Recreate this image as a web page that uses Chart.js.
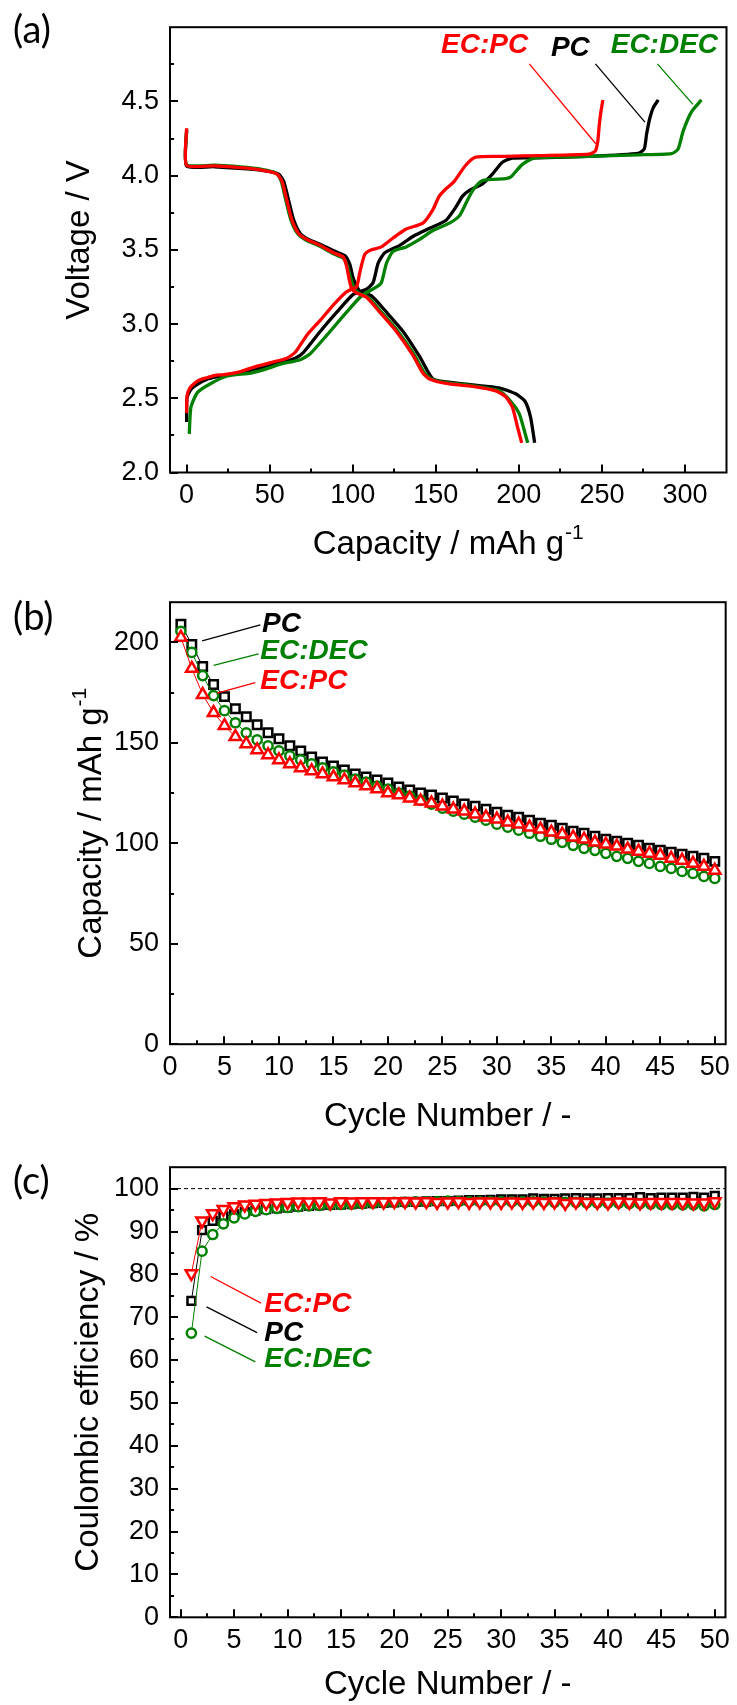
<!DOCTYPE html>
<html>
<head>
<meta charset="utf-8">
<script src="https://cdn.jsdelivr.net/npm/chart.js@4.4.1/dist/chart.umd.min.js"></script>
<style>
  body { margin: 0; background: #fff; }
  #page { position: relative; width: 737px; height: 1705px; overflow: hidden; background: #fff; }
  .panel { position: absolute; left: 0; width: 737px; }
  .tag { position: absolute; left: 13px; font: 38px Lato, "Open Sans", sans-serif; line-height: 38px; color: #000; }
</style>
</head>
<body>
<div id="page">
  <div class="panel" style="top:0"><canvas id="voltage" width="737" height="575"></canvas></div>
  <div class="panel" style="top:575px"><canvas id="capacity" width="737" height="565"></canvas></div>
  <div class="panel" style="top:1140px"><canvas id="efficiency" width="737" height="565"></canvas></div>
  <div class="tag" style="top:9px">(a)</div>
  <div class="tag" style="top:596px">(b)</div>
  <div class="tag" style="top:1160px">(c)</div>
</div>
<script>
// ---- (a) first charge / discharge profiles, [capacity mAh/g, voltage V] ----
const ecpcCharge = [[0, 2.40], [0.3, 2.52], [2, 2.57], [4.6, 2.60], [8, 2.625], [12.6, 2.64], [17, 2.655],
  [22.5, 2.66], [32.5, 2.68], [40.5, 2.71], [50.5, 2.74], [60.4, 2.77], [65.4, 2.81], [72.4, 2.925],
  [80.4, 3.025], [88.4, 3.13], [95.4, 3.21], [99.3, 3.235], [102.3, 3.25], [104.3, 3.35], [107.3, 3.47],
  [111.3, 3.50], [117.3, 3.52], [124.3, 3.58], [132.2, 3.64], [142.2, 3.68], [148.2, 3.77], [152, 3.86],
  [156, 3.91], [161, 3.96], [168, 4.07], [174, 4.125], [192, 4.13], [212, 4.135], [242, 4.145],
  [246, 4.165], [247.5, 4.23], [248.4, 4.34], [249.4, 4.43], [250.6, 4.51]];
const pcCharge = [[0, 2.34], [0.2, 2.50], [2, 2.55], [4.6, 2.58], [12.6, 2.63], [22.5, 2.655], [36.5, 2.68],
  [46.5, 2.71], [56.5, 2.74], [65.4, 2.77], [70.4, 2.81], [80.4, 2.95], [90.4, 3.08], [100.3, 3.20],
  [108.3, 3.235], [112.3, 3.28], [115.3, 3.41], [119.3, 3.48], [128.3, 3.53], [136.2, 3.59], [146.2, 3.645],
  [156.2, 3.70], [162.2, 3.79], [166, 3.86], [170.2, 3.90], [178.1, 3.945], [184.1, 4.01], [190.1, 4.09],
  [196.1, 4.118], [212, 4.12], [242, 4.13], [271.9, 4.15], [275.5, 4.18], [276.9, 4.28], [278.9, 4.39],
  [281, 4.46], [283.9, 4.51]];
const ecdecCharge = [[1.6, 2.26], [2.6, 2.44], [6.6, 2.54], [14.6, 2.60], [24.5, 2.65], [38.5, 2.67],
  [48.5, 2.70], [56.5, 2.73], [68.4, 2.76], [74.4, 2.80], [84.4, 2.925], [96.3, 3.08], [105.3, 3.19],
  [114.3, 3.25], [117.3, 3.28], [120.3, 3.41], [124.3, 3.49], [132.2, 3.52], [140.2, 3.57], [148.2, 3.63],
  [158.2, 3.68], [164.2, 3.73], [168, 3.81], [172.2, 3.90], [178.1, 3.967], [192.1, 3.98], [195.1, 3.99],
  [202.1, 4.076], [209.1, 4.118], [232, 4.127], [271.9, 4.14], [291.9, 4.148], [295.9, 4.18],
  [298.9, 4.30], [303.9, 4.43], [309.9, 4.51]];
const ecpcDischarge = [[0, 4.32], [0, 4.07], [16.6, 4.066], [36.5, 4.05], [48.5, 4.03], [54.5, 4.01],
  [57.5, 3.96], [60.4, 3.83], [63.4, 3.70], [67.4, 3.61], [72.4, 3.57], [80.4, 3.53], [88.4, 3.48],
  [94.4, 3.45], [96.3, 3.39], [97.9, 3.30], [99.3, 3.24], [102.3, 3.21], [108.3, 3.18], [116.3, 3.08],
  [126.3, 2.95], [136.2, 2.79], [142.2, 2.67], [146.2, 2.63], [156.2, 2.60], [172.2, 2.58], [186.1, 2.55],
  [192.1, 2.51], [196.1, 2.44], [199.1, 2.31], [201.7, 2.20]];
const pcDischarge = [[0, 4.31], [0, 4.065], [16.6, 4.06], [36.5, 4.045], [48.5, 4.03], [55.5, 4.01],
  [58.5, 3.96], [61.5, 3.83], [64.5, 3.70], [68.4, 3.61], [73.4, 3.57], [81, 3.535], [89.4, 3.49],
  [95.4, 3.46], [98.3, 3.40], [100, 3.32], [101.3, 3.28], [104.3, 3.22], [111.3, 3.19], [120.3, 3.08],
  [130.3, 2.95], [140.3, 2.78], [148.2, 2.63], [156.2, 2.61], [172.2, 2.59], [188.1, 2.57], [198.1, 2.53],
  [203.7, 2.48], [207.1, 2.37], [209.5, 2.20]];
const ecdecDischarge = [[0, 4.30], [0, 4.075], [16.6, 4.07], [36.5, 4.055], [48.5, 4.035], [54.5, 4.01],
  [57, 3.96], [59.8, 3.83], [62.8, 3.70], [66.8, 3.61], [72, 3.565], [80, 3.525], [88, 3.475], [94.6, 3.44],
  [97, 3.38], [99, 3.30], [101, 3.24], [103.5, 3.21], [109.3, 3.18], [117.3, 3.08], [127.3, 2.95],
  [137.2, 2.79], [143.2, 2.67], [147.2, 2.63], [156.2, 2.605], [172.2, 2.585], [188.1, 2.55], [195.1, 2.48],
  [200.1, 2.40], [203.1, 2.29], [205.3, 2.20]];

// ---- (b), (c) cycling ----
const cycles = [1, 2, 3, 4, 5, 6, 7, 8, 9, 10, 11, 12, 13, 14, 15, 16, 17, 18, 19, 20, 21, 22, 23, 24, 25,
  26, 27, 28, 29, 30, 31, 32, 33, 34, 35, 36, 37, 38, 39, 40, 41, 42, 43, 44, 45, 46, 47, 48, 49, 50];
const pcCapacity = [209, 199, 188, 179, 173, 167, 163, 159, 155, 152, 148.5, 146, 143, 140.5, 138.5, 136.5,
  134.5, 133, 131.5, 130, 128, 126.5, 125, 124, 122.5, 121, 119.5, 118.5, 117, 115.5, 114, 113, 111.5, 110,
  109, 107.5, 106, 105, 103.5, 102, 101, 100, 99, 97.5, 96.5, 95.5, 94.5, 93.5, 92.5, 91];
const ecdecCapacity = [205.5, 195, 183.5, 173.5, 166, 160, 155, 151.5, 148.5, 146, 143.5, 141.5, 139.5, 137.5,
  135.5, 134, 132, 130.5, 128.5, 127, 125, 123.5, 121.5, 119.5, 117.5, 116, 114.5, 113, 111.5, 109.5, 108,
  106.5, 105, 103.5, 102, 100.5, 99, 97.5, 96.5, 95, 93.5, 92.5, 91, 90, 88.5, 87.5, 86, 85, 83.5, 82.5];
const ecpcCapacity = [202.5, 187, 174, 165, 158.5, 153, 149.5, 146.5, 144, 141.5, 139.5, 137.5, 136, 134.5,
  133, 131.5, 130, 128.5, 127, 125, 124, 122.5, 121, 120, 118.5, 117, 116, 114.5, 113, 112, 110.5, 109.5,
  108, 107, 105.5, 104.5, 103, 102, 100.5, 99.5, 98.5, 97, 96, 95, 94, 92.5, 91.5, 90, 88.5, 86.5];
const pcEfficiency = [73.8, 90.3, 92.5, 93.5, 94.0, 94.5, 94.9, 95.2, 95.4, 95.6, 95.8, 96.0, 96.1, 96.2, 96.3,
  96.4, 96.5, 96.6, 96.7, 96.8, 96.9, 96.9, 97.0, 97.1, 97.1, 97.2, 97.3, 97.3, 97.4, 97.5, 97.5, 97.5, 97.7,
  97.6, 97.6, 97.7, 97.8, 97.7, 97.7, 97.8, 97.8, 97.8, 98.0, 97.8, 97.9, 97.9, 97.9, 98.1, 97.9, 98.3];
const ecpcEfficiency = [80.2, 92.5, 94.2, 95.2, 95.8, 96.2, 96.4, 96.6, 96.7, 96.8, 96.9, 96.9, 97.0, 96.7,
  97.0, 96.9, 97.0, 97.0, 96.9, 97.0, 97.0, 96.9, 97.0, 96.8, 96.9, 97.0, 96.8, 96.9, 96.9, 96.8, 96.9, 96.8,
  96.9, 96.8, 96.9, 96.6, 96.9, 96.8, 96.8, 96.7, 96.9, 96.8, 96.7, 96.8, 96.8, 96.8, 96.8, 96.7, 96.7, 97.0];
const ecdecEfficiency = [66.3, 85.4, 89.3, 91.8, 93.2, 94.1, 94.7, 95.1, 95.4, 95.6, 95.8, 96.0, 96.1, 96.2,
  96.3, 96.4, 96.5, 96.6, 96.7, 96.8, 96.8, 96.9, 96.9, 97.0, 97.1, 97.0, 97.0, 97.0, 97.0, 97.0, 96.9, 96.9,
  96.9, 96.9, 96.8, 96.8, 96.8, 96.7, 96.7, 96.6, 96.6, 96.5, 96.5, 96.4, 96.3, 96.3, 96.2, 96.2, 96.0, 96.3];

// ---- tick labels ----
const capacityAxisTicks = [0, 50, 100, 150, 200, 250, 300];
const voltageTicks = [2.0, 2.5, 3.0, 3.5, 4.0, 4.5];
const cycleTicks = [0, 5, 10, 15, 20, 25, 30, 35, 40, 45, 50];
const specificCapacityTicks = [0, 50, 100, 150, 200];
const efficiencyTicks = [0, 10, 20, 30, 40, 50, 60, 70, 80, 90, 100];

const RED = '#ff0000', GREEN = '#008000', BLACK = '#000000';
const FAMILY = '"Liberation Sans", Arial, Helvetica, sans-serif';

const xy = pairs => pairs.map(([x, y]) => ({ x, y }));
const byCycle = vals => cycles.map((c, i) => ({ x: c, y: vals[i] }));

function axis(min, max, ticks, size, padding, fmt) {
  return {
    type: 'linear', min, max,
    grid: { display: false, drawTicks: false },
    border: { display: false },
    afterBuildTicks: s => { s.ticks = ticks.map(v => ({ value: v })); },
    afterFit: s => { if (s.isHorizontal()) s.height = size; else s.width = size; },
    ticks: {
      color: '#000', autoSkip: false, maxRotation: 0, minRotation: 0,
      font: { family: FAMILY, size: 27 },
      padding,
      callback: fmt || (v => String(v))
    }
  };
}

// midpoints between major ticks, kept strictly inside the axis range
function minors(scale) {
  const vals = scale.ticks.map(t => t.value);
  const step = vals[1] - vals[0];
  const out = [];
  for (let v = vals[0] - step / 2; v < scale.max - 1e-9; v += step) {
    if (v > scale.min + 1e-9) out.push(v);
  }
  return out;
}

// closed frame with inward ticks on the bottom and left axes
const frame = {
  id: 'frame',
  afterDatasetsDraw(chart) {
    const { ctx, chartArea: a } = chart;
    const xs = chart.scales.x, ys = chart.scales.y;
    ctx.save();
    ctx.strokeStyle = '#000';
    ctx.lineWidth = 2;
    ctx.beginPath();
    const xTick = (v, len) => { const p = Math.round(xs.getPixelForValue(v)); ctx.moveTo(p, a.bottom); ctx.lineTo(p, a.bottom - len); };
    const yTick = (v, len) => { const p = Math.round(ys.getPixelForValue(v)); ctx.moveTo(a.left, p); ctx.lineTo(a.left + len, p); };
    xs.ticks.forEach(t => xTick(t.value, 8));
    minors(xs).forEach(v => xTick(v, 4));
    ys.ticks.forEach(t => yTick(t.value, 8));
    minors(ys).forEach(v => yTick(v, 4));
    ctx.stroke();
    ctx.strokeRect(a.left, a.top, a.right - a.left, a.bottom - a.top);
    ctx.restore();
  }
};

// series names placed in data coordinates
const notes = {
  id: 'notes',
  afterDatasetsDraw(chart, args, opts) {
    const { ctx } = chart;
    ctx.save();
    ctx.font = 'italic bold 28px ' + FAMILY;
    ctx.textBaseline = 'middle';
    for (const n of opts.items || []) {
      ctx.fillStyle = n.color;
      ctx.textAlign = n.align || 'left';
      ctx.fillText(n.text, chart.scales.x.getPixelForValue(n.x), chart.scales.y.getPixelForValue(n.y));
    }
    ctx.restore();
  }
};

// axis titles with an optional superscript
function titleText(ctx, text, sup, cx, cy) {
  const main = '33px ' + FAMILY, small = '21px ' + FAMILY;
  ctx.font = main;
  const w1 = ctx.measureText(text).width;
  ctx.font = small;
  const w2 = sup ? ctx.measureText(sup).width + 1 : 0;
  const x0 = cx - (w1 + w2) / 2;
  ctx.textAlign = 'left';
  ctx.textBaseline = 'middle';
  ctx.font = main;
  ctx.fillText(text, x0, cy);
  if (sup) {
    ctx.font = small;
    ctx.fillText(sup, x0 + w1 + 1, cy - 12);
  }
}
const titles = {
  id: 'titles',
  afterDraw(chart, args, opts) {
    const { ctx, chartArea: a } = chart;
    ctx.save();
    ctx.fillStyle = '#000';
    const tx = opts.x, ty = opts.y;
    titleText(ctx, tx.text, tx.sup, (a.left + a.right) / 2, tx.at);
    ctx.translate(ty.at, ty.mid != null ? ty.mid : (a.top + a.bottom) / 2);
    ctx.rotate(-Math.PI / 2);
    titleText(ctx, ty.text, ty.sup, 0, 0);
    ctx.restore();
  }
};

function curve(data, color) {
  return { data: xy(data), borderColor: color, borderWidth: 3.3, pointRadius: 0, showLine: true, tension: 0.2, fill: false };
}
function leader(pairs, color) {
  return { data: xy(pairs), borderColor: color, borderWidth: 1.3, pointRadius: 0, showLine: true, tension: 0 };
}
function markers(vals, color, style, rotation, radius) {
  return {
    data: byCycle(vals), showLine: true, tension: 0,
    borderColor: color, borderWidth: 1,
    pointStyle: style, pointRotation: rotation, pointRadius: radius,
    pointBorderColor: color, pointBorderWidth: 2.5, pointBackgroundColor: '#fff'
  };
}

function base(layout, scales, plugins) {
  return {
    responsive: false, animation: false, events: [],
    layout: { padding: layout },
    scales,
    plugins: Object.assign({ legend: { display: false }, tooltip: { enabled: false } }, plugins)
  };
}

// (a) voltage profiles
new Chart(document.getElementById('voltage'), {
  type: 'scatter',
  data: {
    datasets: [
      leader([[206.3, 4.753], [246.3, 4.215]], RED),
      leader([[246.1, 4.753], [275.9, 4.36]], BLACK),
      leader([[283.4, 4.753], [304.8, 4.48]], GREEN),
      curve(ecpcCharge, RED), curve(ecpcDischarge, RED),
      curve(ecdecCharge, GREEN), curve(ecdecDischarge, GREEN),
      curve(pcCharge, BLACK), curve(pcDischarge, BLACK)
    ]
  },
  options: base({ left: 0, right: 10.5, top: 21.5, bottom: 0 }, {
    x: axis(-10, 325, capacityAxisTicks, 102.5, 7),
    y: axis(2.0, 5.0, voltageTicks, 170, 11, v => v.toFixed(1))
  }, {
    notes: { items: [
      { text: 'EC:PC', x: 179.4, y: 4.877, color: RED, align: 'center' },
      { text: 'PC', x: 231, y: 4.856, color: BLACK, align: 'center' },
      { text: 'EC:DEC', x: 287.6, y: 4.877, color: GREEN, align: 'center' }
    ] },
    titles: { x: { text: 'Capacity / mAh g', sup: '-1', at: 545 }, y: { text: 'Voltage / V', at: 80, mid: 240 } }
  }),
  plugins: [frame, notes, titles]
});

function cycleAxes(ymin, ymax, yTicks, xmin, xHeight) {
  return {
    x: axis(xmin, 51, cycleTicks, xHeight, 7),
    y: axis(ymin, ymax, yTicks, 170, 11)
  };
}

// (b) discharge capacity vs cycle
new Chart(document.getElementById('capacity'), {
  type: 'scatter',
  data: {
    datasets: [
      leader([[2.95, 200.8], [8.29, 208.7]], BLACK),
      leader([[4.01, 188.6], [8.13, 194.3]], GREEN),
      leader([[4.32, 174.7], [7.83, 180.0]], RED),
      markers(ecpcCapacity, RED, 'triangle', 0, 6.6),
      markers(ecdecCapacity, GREEN, 'circle', 0, 4.6),
      markers(pcCapacity, BLACK, 'rect', 0, 6)
    ]
  },
  options: base({ left: 0, right: 10.5, top: 19, bottom: 0 }, cycleAxes(0, 220, specificCapacityTicks, 0, 95.8), {
    notes: { items: [
      { text: 'PC', x: 8.44, y: 209, color: BLACK },
      { text: 'EC:DEC', x: 8.29, y: 195.6, color: GREEN },
      { text: 'EC:PC', x: 8.29, y: 180.5, color: RED }
    ] },
    titles: { x: { text: 'Cycle Number / -', at: 542 }, y: { text: 'Capacity / mAh g', sup: '-1', at: 92 } }
  }),
  plugins: [frame, notes, titles]
});

// (c) coulombic efficiency vs cycle
new Chart(document.getElementById('efficiency'), {
  type: 'scatter',
  data: {
    datasets: [
      { data: xy([[-1, 100], [51, 100]]), borderColor: BLACK, borderWidth: 1, borderDash: [4, 3], pointRadius: 0, showLine: true },
      leader([[2.80, 79.5], [7.52, 73.3]], RED),
      leader([[2.42, 72.4], [7.15, 66.4]], BLACK),
      leader([[2.24, 65.6], [6.99, 59.6]], GREEN),
      markers(ecpcEfficiency, RED, 'triangle', 180, 6.6),
      markers(ecdecEfficiency, GREEN, 'circle', 0, 4.6),
      markers(pcEfficiency, BLACK, 'rect', 0, 5.5)
    ]
  },
  options: base({ left: 0, right: 10.5, top: 25.7, bottom: 0 }, cycleAxes(0, 105, efficiencyTicks, -1, 87.7), {
    notes: { items: [
      { text: 'EC:PC', x: 7.83, y: 73.0, color: RED },
      { text: 'PC', x: 7.83, y: 66.2, color: BLACK },
      { text: 'EC:DEC', x: 7.83, y: 60.1, color: GREEN }
    ] },
    titles: { x: { text: 'Cycle Number / -', at: 545 }, y: { text: 'Coulombic efficiency / %', at: 89 } }
  }),
  plugins: [frame, notes, titles]
});
</script>
</body>
</html>
